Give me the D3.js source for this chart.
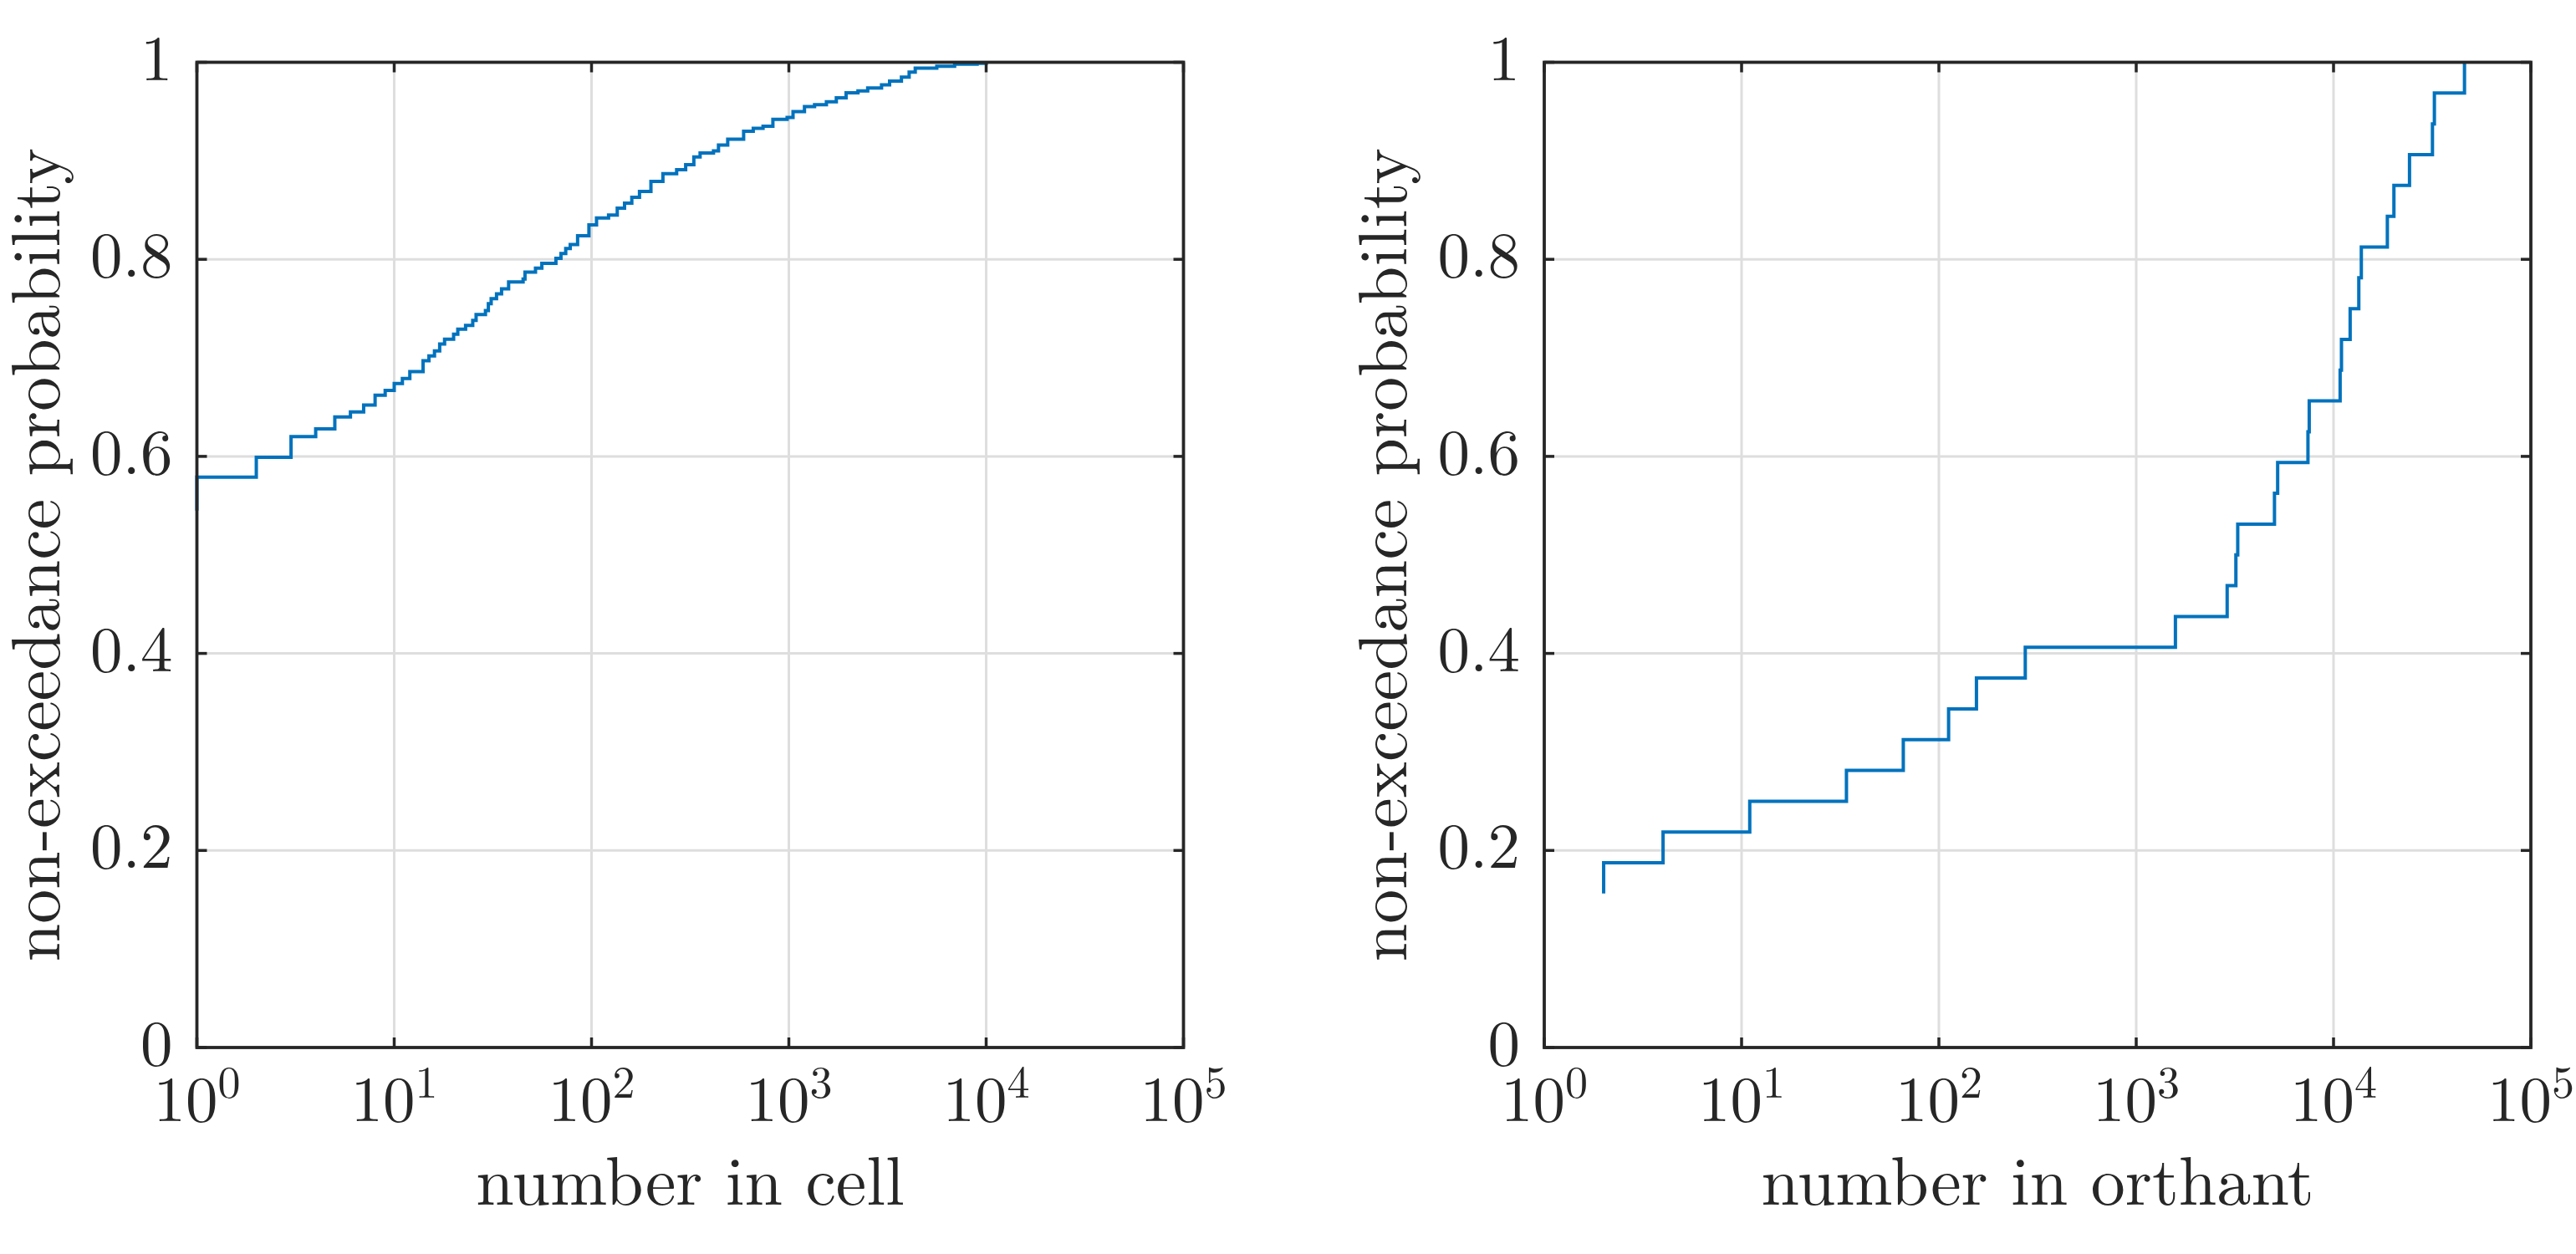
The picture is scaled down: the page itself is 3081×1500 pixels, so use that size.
<!DOCTYPE html>
<html>
<head>
<meta charset="utf-8">
<script src="https://cdn.jsdelivr.net/npm/d3@7"></script>
<style>
    body { margin: 0; background: #fff; }
</style>
</head>
<body>
<svg id="chart" width="3081" height="1500"></svg>
<script>
// empirical CDF, number in cell (jump location, probability after the jump)
const cellX = [1, 1, 2, 3, 4, 5, 6, 7, 8, 9, 10, 11, 12, 14, 15, 16, 17, 18, 20, 21, 23, 25, 26, 29, 30,
    31, 33, 35, 38, 45, 46, 52, 56, 66, 70, 74, 78, 85, 97, 106, 122, 135, 147, 160, 175, 200, 230,
    270, 300, 330, 355, 415, 440, 490, 590, 660, 740, 830, 980, 1050, 1200, 1350, 1550, 1740, 1950,
    2240, 2510, 2950, 3240, 3720, 4070, 4370, 5620, 6920, 9000, 10000];
const cellP = [0.545, 0.579, 0.599, 0.620, 0.628, 0.640, 0.645, 0.652, 0.662, 0.667, 0.674, 0.679, 0.686,
    0.697, 0.702, 0.707, 0.714, 0.719, 0.724, 0.729, 0.733, 0.738, 0.744, 0.748, 0.755,
    0.760, 0.765, 0.770, 0.777, 0.780, 0.787, 0.791, 0.796, 0.801, 0.806, 0.811, 0.815, 0.824, 0.835,
    0.842, 0.845, 0.852, 0.857, 0.863, 0.869, 0.879, 0.887, 0.891, 0.896, 0.904, 0.908, 0.910, 0.916,
    0.922, 0.930, 0.933, 0.935, 0.942, 0.944, 0.950, 0.955, 0.957, 0.960, 0.964, 0.969, 0.971, 0.974,
    0.977, 0.981, 0.985, 0.990, 0.994, 0.996, 0.998, 0.999, 1.000];

// empirical CDF, number in orthant
const orthX = [2, 2, 4, 11, 34, 66, 112, 155, 274, 1580, 2890, 3200, 3270, 5020, 5210, 7420, 7530,
    10800, 10970, 12140, 13430, 13830, 18740, 20230, 24270, 31720, 32440, 46100];
const orthP = [0.15625, 0.1875, 0.21875, 0.25, 0.28125, 0.3125, 0.34375, 0.375, 0.40625, 0.4375,
    0.46875, 0.5, 0.53125, 0.5625, 0.59375, 0.625, 0.65625, 0.6875, 0.71875, 0.75, 0.78125,
    0.8125, 0.84375, 0.875, 0.90625, 0.9375, 0.96875, 1.0];

const xTicks = [1, 10, 100, 1000, 10000, 100000];
const xTickExp = ["0", "1", "2", "3", "4", "5"];
const yTicks = [0, 0.2, 0.4, 0.6, 0.8, 1];
const yTickLabels = ["0", "0.2", "0.4", "0.6", "0.8", "1"];

const yLabel = "non-exceedance probability";

const axisColor = "#262626";
const gridColor = "#dedede";
const lineColor = "#0072BD";

const svg = d3.select("#chart")
    .attr("font-family", "'Latin Modern Roman', 'Liberation Serif', serif");

function drawPanel(left, xs, ps, xLabel) {
    const top = 74.5, width = 1180, height = 1178.5, tick = 12;

    const xscale = d3.scaleLog().domain([1, 1e5]).range([left, left + width]);
    const yscale = d3.scaleLinear().domain([0, 1]).range([top + height, top]);

    const g = svg.append("g");

    // grid
    g.selectAll("line.gx").data(xTicks.slice(1, -1)).enter().append("line")
        .attr("x1", d => xscale(d)).attr("x2", d => xscale(d))
        .attr("y1", top).attr("y2", top + height)
        .attr("stroke", gridColor).attr("stroke-width", 3);

    g.selectAll("line.gy").data(yTicks.slice(1, -1)).enter().append("line")
        .attr("x1", left).attr("x2", left + width)
        .attr("y1", d => yscale(d)).attr("y2", d => yscale(d))
        .attr("stroke", gridColor).attr("stroke-width", 3);

    // data
    const pts = xs.map((x, i) => [x, ps[i]]);
    g.append("path")
        .datum(pts)
        .attr("fill", "none")
        .attr("stroke", lineColor)
        .attr("stroke-width", 4)
        .attr("d", d3.line()
            .x(d => xscale(d[0]))
            .y(d => yscale(d[1]))
            .curve(d3.curveStepAfter));

    // ticks, inward on all four sides
    const tk = g.append("g").attr("stroke", axisColor).attr("stroke-width", 3.5);
    xTicks.forEach(d => {
        tk.append("line").attr("x1", xscale(d)).attr("x2", xscale(d))
            .attr("y1", top + height).attr("y2", top + height - tick);
        tk.append("line").attr("x1", xscale(d)).attr("x2", xscale(d))
            .attr("y1", top).attr("y2", top + tick);
    });
    yTicks.forEach(d => {
        tk.append("line").attr("x1", left).attr("x2", left + tick)
            .attr("y1", yscale(d)).attr("y2", yscale(d));
        tk.append("line").attr("x1", left + width).attr("x2", left + width - tick)
            .attr("y1", yscale(d)).attr("y2", yscale(d));
    });

    // box
    g.append("rect")
        .attr("x", left).attr("y", top)
        .attr("width", width).attr("height", height)
        .attr("fill", "none")
        .attr("stroke", axisColor)
        .attr("stroke-width", 3.8);

    // tick labels
    xTicks.forEach((d, i) => {
        const t = g.append("text")
            .attr("x", xscale(d)).attr("y", 1341)
            .attr("text-anchor", "middle")
            .attr("fill", axisColor)
            .attr("font-size", 77);
        t.append("tspan").text("10");
        t.append("tspan").attr("font-size", 54).attr("dy", -28).text(xTickExp[i]);
    });

    yTicks.forEach((d, i) => {
        g.append("text")
            .attr("x", left - 29).attr("y", yscale(d) + 21)
            .attr("text-anchor", "end")
            .attr("fill", axisColor)
            .attr("font-size", 77)
            .text(yTickLabels[i]);
    });

    // axis labels
    g.append("text")
        .attr("x", left + width / 2).attr("y", 1441)
        .attr("text-anchor", "middle")
        .attr("fill", axisColor)
        .attr("font-size", 82)
        .text(xLabel);

    g.append("text")
        .attr("transform", "translate(" + (left - 165) + "," + (top + height / 2) + ") rotate(-90)")
        .attr("text-anchor", "middle")
        .attr("fill", axisColor)
        .attr("font-size", 82)
        .text(yLabel);
}

drawPanel(235.5, cellX, cellP, "number in cell");
drawPanel(1847, orthX, orthP, "number in orthant");
</script>
</body>
</html>
